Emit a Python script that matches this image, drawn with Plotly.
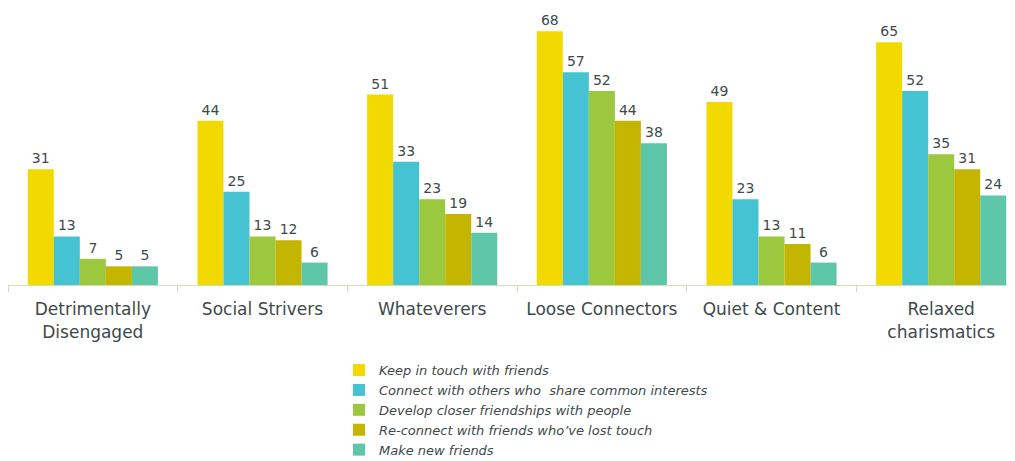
import plotly.graph_objects as go

categories = ["Detrimentally<br>Disengaged", "Social Strivers", "Whateverers",
              "Loose Connectors", "Quiet & Content", "Relaxed<br>charismatics"]
series_names = ["Keep in touch with friends",
                "Connect with others who  share common interests",
                "Develop closer friendships with people",
                "Re-connect with friends who\u2019ve lost touch",
                "Make new friends"]
keep_in_touch = [31, 44, 51, 68, 49, 65]
connect_interests = [13, 25, 33, 57, 23, 52]
closer_friendships = [7, 13, 23, 52, 13, 35]
reconnect = [5, 12, 19, 44, 11, 31]
new_friends = [5, 6, 14, 38, 6, 24]
series_values = [keep_in_touch, connect_interests, closer_friendships, reconnect, new_friends]
colors = ["#F2DA00", "#45C3D2", "#9BC83C", "#C4B500", "#5FC7A9"]

FONT = "DejaVu Sans"
TXT = "#3d4a4a"

fig = go.Figure()
for name, vals, col in zip(series_names, series_values, colors):
    fig.add_trace(go.Bar(
        x=categories, y=vals, name=name, marker_color=col, marker_line_width=0,
        text=[str(v) for v in vals], textposition="outside", cliponaxis=False,
        textfont=dict(family=FONT, size=14, color=TXT), showlegend=False))
    fig.add_trace(go.Scatter(
        x=[None], y=[None], mode="markers", name=name,
        marker=dict(symbol="square", size=7, color=col)))

fig.update_layout(
    width=1007, height=453,
    margin=dict(l=0, r=0, t=0, b=176, autoexpand=False),
    paper_bgcolor="white", plot_bgcolor="white",
    barmode="group", bargap=0.233, bargroupgap=0,
    font=dict(family=FONT, color=TXT),
    xaxis=dict(range=[-0.5, 5.435], showline=True, linecolor="#cfe0b5", linewidth=1,
               ticks="outside", tickson="boundaries", ticklen=6, tickcolor="#cfe0b5",
               ticklabelstandoff=9, automargin=False,
               tickfont=dict(family=FONT, size=17, color=TXT), showgrid=False),
    yaxis=dict(range=[0, 74.2], visible=False, showgrid=False),
    legend=dict(x=0.3287, y=-0.253, xanchor="left", yanchor="top",
                font=dict(family=FONT, size=13, color=TXT, style="italic"),
                itemsizing="constant", tracegroupgap=0, itemwidth=30,
                bgcolor="rgba(0,0,0,0)"),
)
fig.write_html("out.html")
